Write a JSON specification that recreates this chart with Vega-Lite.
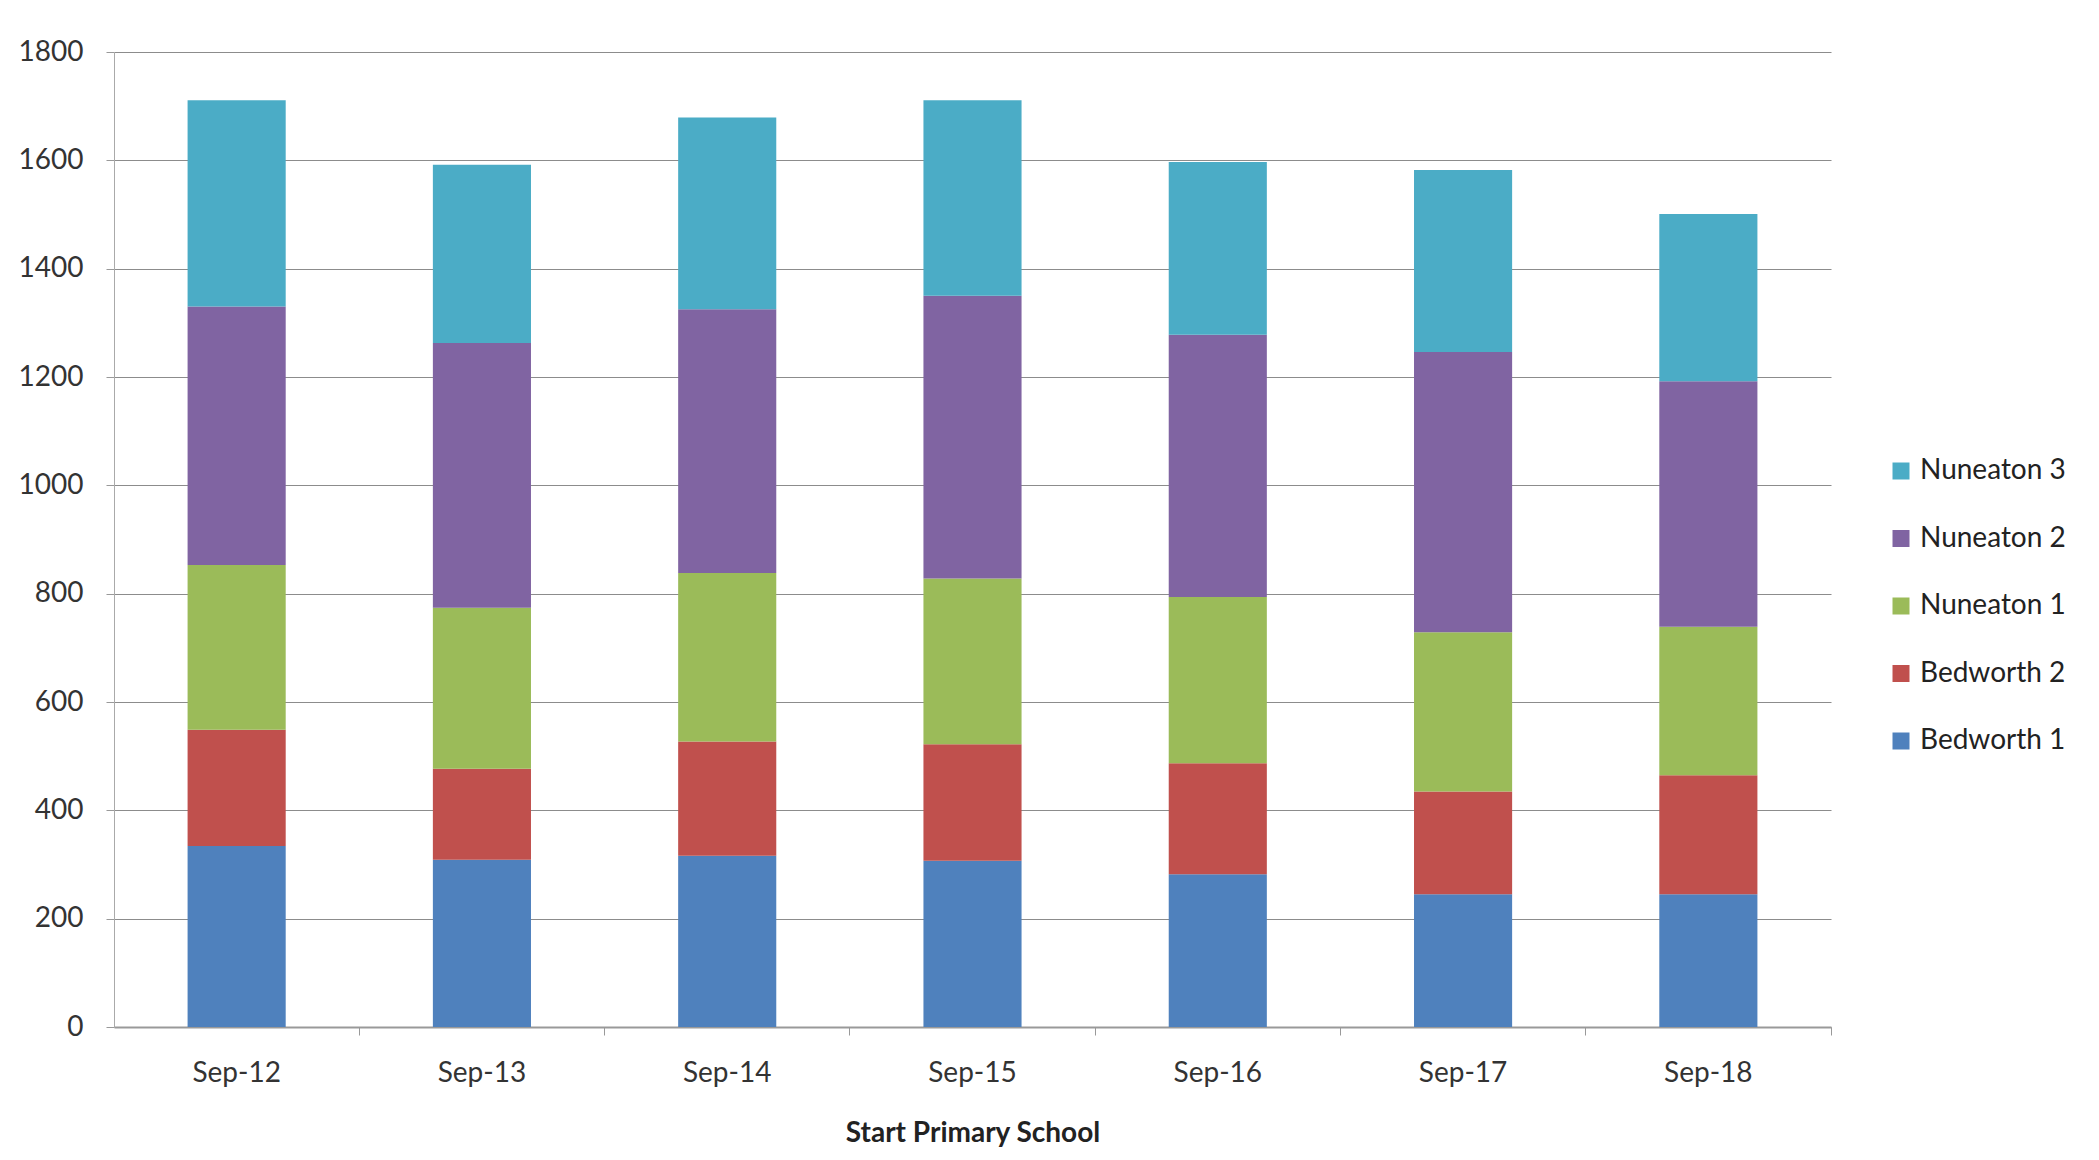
{
  "$schema": "https://vega.github.io/schema/vega-lite/v6.json",
  "autosize": {"type": "none"},
  "width": 1717,
  "height": 975,
  "padding": {"left": 114, "top": 52, "right": 268, "bottom": 133},
  "background": "white",
  "data": {
    "values": [
      {"period": "Sep-12", "area": "Bedworth 1", "pupils": 334},
      {"period": "Sep-12", "area": "Bedworth 2", "pupils": 215},
      {"period": "Sep-12", "area": "Nuneaton 1", "pupils": 304},
      {"period": "Sep-12", "area": "Nuneaton 2", "pupils": 477},
      {"period": "Sep-12", "area": "Nuneaton 3", "pupils": 381},
      {"period": "Sep-13", "area": "Bedworth 1", "pupils": 309},
      {"period": "Sep-13", "area": "Bedworth 2", "pupils": 168},
      {"period": "Sep-13", "area": "Nuneaton 1", "pupils": 297},
      {"period": "Sep-13", "area": "Nuneaton 2", "pupils": 489},
      {"period": "Sep-13", "area": "Nuneaton 3", "pupils": 329},
      {"period": "Sep-14", "area": "Bedworth 1", "pupils": 316},
      {"period": "Sep-14", "area": "Bedworth 2", "pupils": 211},
      {"period": "Sep-14", "area": "Nuneaton 1", "pupils": 311},
      {"period": "Sep-14", "area": "Nuneaton 2", "pupils": 487},
      {"period": "Sep-14", "area": "Nuneaton 3", "pupils": 354},
      {"period": "Sep-15", "area": "Bedworth 1", "pupils": 307},
      {"period": "Sep-15", "area": "Bedworth 2", "pupils": 215},
      {"period": "Sep-15", "area": "Nuneaton 1", "pupils": 306},
      {"period": "Sep-15", "area": "Nuneaton 2", "pupils": 522},
      {"period": "Sep-15", "area": "Nuneaton 3", "pupils": 361},
      {"period": "Sep-16", "area": "Bedworth 1", "pupils": 282},
      {"period": "Sep-16", "area": "Bedworth 2", "pupils": 205},
      {"period": "Sep-16", "area": "Nuneaton 1", "pupils": 307},
      {"period": "Sep-16", "area": "Nuneaton 2", "pupils": 484},
      {"period": "Sep-16", "area": "Nuneaton 3", "pupils": 319},
      {"period": "Sep-17", "area": "Bedworth 1", "pupils": 245},
      {"period": "Sep-17", "area": "Bedworth 2", "pupils": 190},
      {"period": "Sep-17", "area": "Nuneaton 1", "pupils": 294},
      {"period": "Sep-17", "area": "Nuneaton 2", "pupils": 517},
      {"period": "Sep-17", "area": "Nuneaton 3", "pupils": 336},
      {"period": "Sep-18", "area": "Bedworth 1", "pupils": 245},
      {"period": "Sep-18", "area": "Bedworth 2", "pupils": 220},
      {"period": "Sep-18", "area": "Nuneaton 1", "pupils": 274},
      {"period": "Sep-18", "area": "Nuneaton 2", "pupils": 453},
      {"period": "Sep-18", "area": "Nuneaton 3", "pupils": 309}
    ]
  },
  "mark": {"type": "bar"},
  "encoding": {
    "x": {
      "field": "period",
      "type": "nominal",
      "sort": null,
      "scale": {"paddingInner": 0.6, "paddingOuter": 0.3},
      "axis": {
        "title": "Start Primary School",
        "titleFont": "Lato",
        "titleFontSize": 28,
        "titleFontWeight": "bold",
        "titleColor": "#222222",
        "titlePadding": 32,
        "labelFont": "Lato",
        "labelFontSize": 28,
        "labelColor": "#333333",
        "labelAngle": 0,
        "labelPadding": 24,
        "bandPosition": 1.75,
        "tickSize": 8,
        "tickColor": "#999999",
        "domainColor": "#999999",
        "domainWidth": 2,
        "grid": false
      }
    },
    "y": {
      "field": "pupils",
      "type": "quantitative",
      "aggregate": "sum",
      "stack": "zero",
      "scale": {"domain": [0, 1800], "nice": false},
      "axis": {
        "title": null,
        "format": "d",
        "values": [0, 200, 400, 600, 800, 1000, 1200, 1400, 1600, 1800],
        "labelFont": "Lato",
        "labelFontSize": 28,
        "labelColor": "#333333",
        "labelPadding": 23,
        "tickSize": 8,
        "tickColor": "#999999",
        "domainColor": "#aaaaaa",
        "grid": true,
        "gridColor": "#8c8c8c",
        "gridWidth": 1.2
      }
    },
    "color": {
      "field": "area",
      "type": "nominal",
      "scale": {
        "domain": ["Nuneaton 3", "Nuneaton 2", "Nuneaton 1", "Bedworth 2", "Bedworth 1"],
        "range": ["#4BACC6", "#8064A2", "#9BBB59", "#C0504D", "#4F81BD"]
      },
      "legend": {
        "title": null,
        "orient": "none",
        "legendX": 1773,
        "legendY": 405,
        "symbolType": "square",
        "symbolSize": 289,
        "symbolStrokeWidth": 0,
        "labelFont": "Lato",
        "labelFontSize": 28,
        "labelColor": "#222222",
        "labelOffset": 5,
        "rowPadding": 39.5
      }
    },
    "order": {"field": "area", "sort": "ascending"}
  },
  "config": {
    "view": {"stroke": null}
  }
}
